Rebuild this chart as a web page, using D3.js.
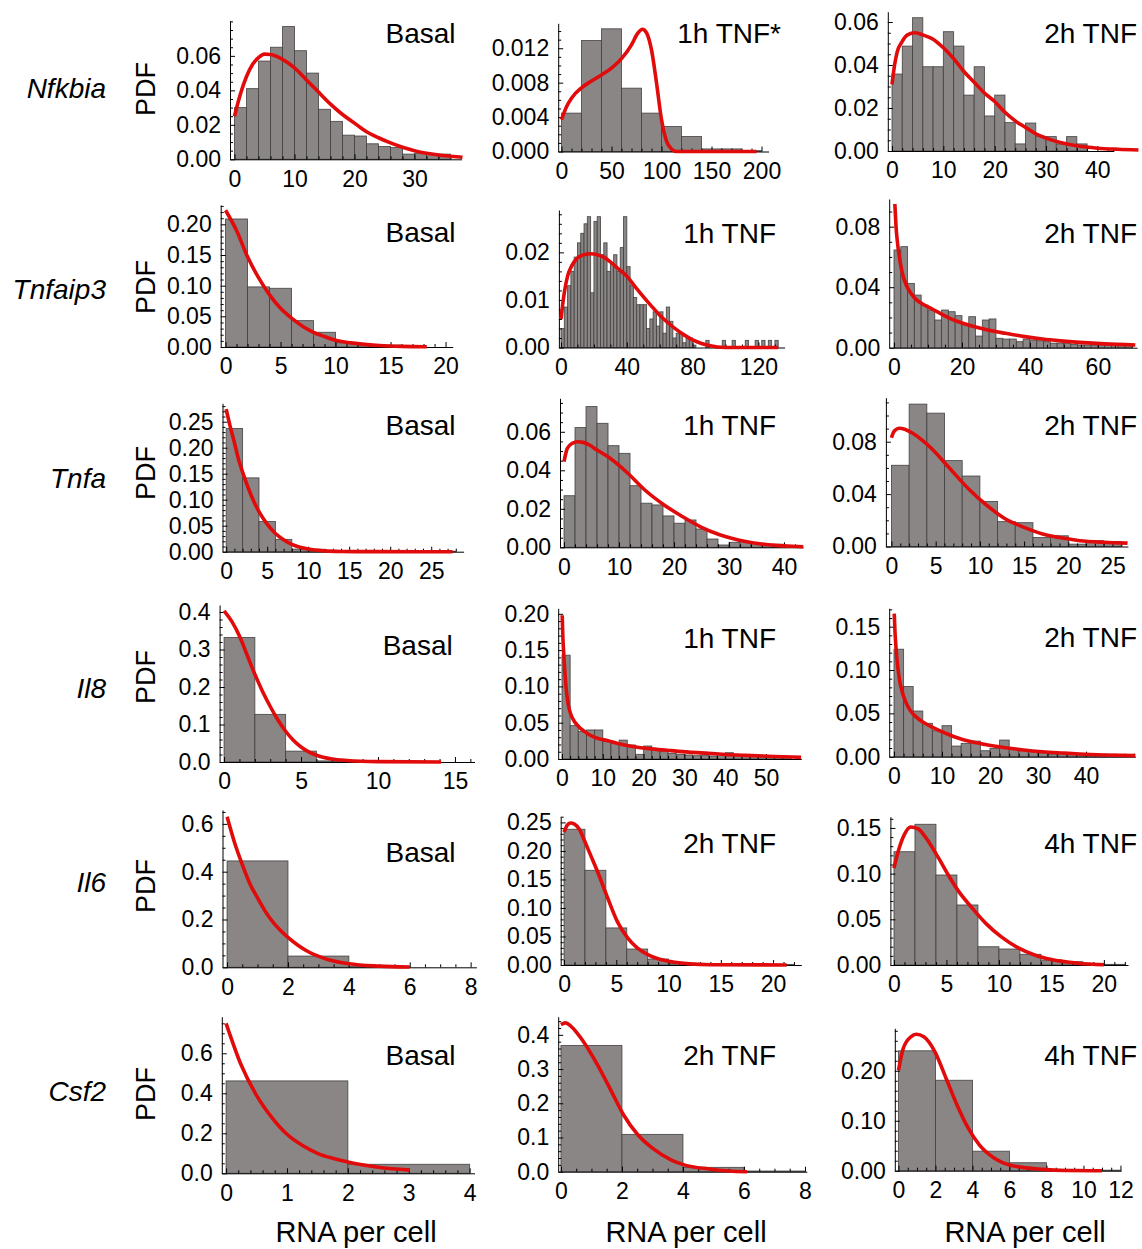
<!DOCTYPE html>
<html>
<head>
<meta charset="utf-8">
<script src="https://cdn.jsdelivr.net/npm/d3@7"></script>
<style>
  body { margin: 0; background: #fff; }
  svg { display: block; }
</style>
</head>
<body>
<svg id="chart" width="1142" height="1249"></svg>
<script>
// ---- data ----------------------------------------------------------------
const genes = ["Nfkbia", "Tnfaip3", "Tnfa", "Il8", "Il6", "Csf2"];
const conditions = [
  ["Basal", "1h TNF*", "2h TNF"],
  ["Basal", "1h TNF", "2h TNF"],
  ["Basal", "1h TNF", "2h TNF"],
  ["Basal", "1h TNF", "2h TNF"],
  ["Basal", "2h TNF", "4h TNF"],
  ["Basal", "2h TNF", "4h TNF"]
];
const xTitle = "RNA per cell";
const yTitle = "PDF";

// histogram bin width (RNA per cell)
const binWidths = [[2, 20, 2], [2, 2, 2], [2, 2, 2], [2, 2, 2], [2, 2, 2], [2, 2, 2]];

// histogram densities, one value per bin starting at 0
const nfkbiaBasal = [0.030, 0.041, 0.057, 0.065, 0.077, 0.063, 0.050, 0.029, 0.022, 0.014, 0.0135, 0.009, 0.0074, 0.0068, 0.003, 0.0035, 0.003, 0.003];
const nfkbia1h = [0.00446, 0.0129, 0.01426, 0.00736, 0.00446, 0.0029, 0.00174, 0.0003, 0.0003, 0.0001];
const nfkbia2h = [0.0358, 0.0488, 0.062, 0.0392, 0.0392, 0.0555, 0.0488, 0.026, 0.0392, 0.0163, 0.026, 0.0132, 0.0033, 0.013, 0.0067, 0.0067, 0.0033, 0.0067, 0.0033];
const tnfaip3Basal = [0.2087, 0.098, 0.0957, 0.043, 0.024, 0.007, 0.004, 0.003, 0.0025];
const tnfaip31h = [0.004, 0.0085, 0.013, 0.016, 0.019, 0.022, 0.024, 0.026, 0.0275, 0.0115,
  0.0265, 0.0275, 0.0195, 0.022, 0.016, 0.0175, 0.0195, 0.016, 0.021, 0.0275,
  0.017, 0.013, 0.0105, 0.009, 0.009, 0.009, 0.004, 0.006, 0.0075, 0.0045,
  0.0075, 0.003, 0.0085, 0.0055, 0.002, 0.003, 0.003, 0.001, 0.002, 0.002,
  0.0005, 0, 0, 0, 0.0015, 0, 0, 0, 0, 0.0015,
  0, 0, 0.0015, 0, 0, 0, 0.0015, 0, 0, 0.0015,
  0, 0.0015, 0, 0.0015, 0, 0.0015];
const tnfaip32h = [0.0646, 0.0668, 0.0425, 0.0348, 0.0282, 0.0249, 0.0183, 0.0249, 0.0238, 0.0212,
  0.016, 0.0205, 0.0077, 0.0183, 0.019, 0.0062, 0.0057, 0.0057, 0.004, 0.0057,
  0.005, 0.0046, 0.004, 0.003, 0.003, 0.003, 0.0022, 0.0018, 0.0018, 0.0018,
  0.0018, 0.0018, 0.0018, 0.0018, 0.0018];
const tnfaBasal = [0.237, 0.142, 0.058, 0.0237, 0.005, 0.003, 0.002, 0.0015, 0.001, 0.001, 0.001, 0.001, 0.001, 0.001];
const tnfa1h = [0.0268, 0.0622, 0.0731, 0.0644, 0.0528, 0.0488, 0.032, 0.0229, 0.022, 0.0163, 0.0125, 0.0142, 0.0095, 0.0043, 0.0012, 0.0026, 0.003, 0.002, 0.0016, 0.0016, 0.0009];
const tnfa2h = [0.062, 0.1087, 0.1018, 0.0656, 0.0538, 0.0344, 0.019, 0.0182, 0.0069, 0.0082, 0.0018, 0.0044, 0.0038];
const il8Basal = [0.332, 0.127, 0.029, 0.003];
const il81h = [0.143, 0.046, 0.0377, 0.04, 0.04, 0.0248, 0.0216, 0.026, 0.0193, 0.0064, 0.0179, 0.0124, 0.0101, 0.0078, 0.0064, 0.0055, 0.0046, 0.0055, 0.0041, 0.0064, 0.0087, 0.0046, 0.0041, 0.0032, 0.0032, 0.0028, 0.0023, 0.0023];
const il82h = [0.124, 0.081, 0.0527, 0.0385, 0.03, 0.0358, 0.0123, 0.0154, 0.018, 0.0069, 0.0096, 0.0192, 0.0096, 0.0077, 0.0058, 0.0046, 0.0031, 0.0046, 0.0038, 0.0031, 0.0031, 0.0023, 0.0019, 0.0019];
const il6Basal = [0.445, 0.047, 0.003];
const il62h = [0.238, 0.166, 0.065, 0.028, 0.0105, 0.003, 0.0015, 0.0015, 0.001, 0.001, 0.001];
const il64h = [0.124, 0.154, 0.0985, 0.0657, 0.02, 0.0175, 0.0117, 0.0055, 0.0036, 0.0018, 0.0007];
const csf2Basal = [0.462, 0.045];
const csf22h = [0.369, 0.109, 0.0127, 0.002];
const csf24h = [0.24, 0.181, 0.039, 0.016, 0.0027, 0.001];

// fitted model curves, [RNA per cell, density]
const nfkbiaBasalFit = [[0,0.025],[1,0.038],[2,0.048],[3,0.055],[4,0.059],[5,0.061],[6,0.0608],[8,0.058],[10,0.053],[12,0.046],[14,0.039],[16,0.032],[18,0.026],[20,0.021],[22,0.016],[24,0.0125],[26,0.0095],[28,0.007],[30,0.005],[32,0.0035],[34,0.0025],[36,0.0018],[38,0.0012]];
const nfkbia1hFit = [[0,0.0037],[5,0.0052],[10,0.0062],[20,0.0074],[30,0.0082],[40,0.0089],[50,0.0097],[60,0.0108],[70,0.0124],[76,0.0137],[81,0.0142],[85,0.0138],[90,0.0118],[95,0.008],[100,0.0037],[105,0.0012],[110,0.0003],[115,0],[195,0]];
const nfkbia2hFit = [[0,0.031],[0.5,0.040],[1,0.046],[2,0.051],[3,0.054],[4.5,0.055],[6,0.054],[8,0.052],[10,0.048],[12,0.043],[14,0.037],[16,0.032],[18,0.027],[20,0.023],[22,0.018],[24,0.014],[26,0.011],[28,0.008],[30,0.006],[33,0.0038],[36,0.0024],[40,0.0013],[44,0.0008],[48,0.0005]];
const tnfaip3BasalFit = [[0,0.223],[1,0.19],[2,0.147],[3,0.113],[4,0.085],[5,0.063],[6,0.047],[7,0.034],[8,0.024],[9,0.017],[10,0.011],[12,0.0055],[14,0.0025],[16,0.001],[18.3,0.0003]];
const tnfaip31hFit = [[0,0.006],[1,0.009],[2,0.0115],[4,0.015],[6,0.0168],[8,0.018],[10,0.0188],[14,0.0195],[18,0.0197],[22,0.0195],[26,0.019],[30,0.018],[35,0.0165],[40,0.015],[45,0.0128],[50,0.0107],[55,0.0087],[60,0.0068],[65,0.0052],[70,0.0038],[75,0.0026],[80,0.0016],[85,0.0009],[90,0.0004],[95,0.0001],[100,0],[132,0]];
const tnfaip32hFit = [[0.25,0.095],[0.6,0.08],[1.1,0.068],[2.2,0.052],[3,0.045],[4.4,0.038],[6,0.033],[7.6,0.030],[10.9,0.026],[16.4,0.0194],[21.9,0.015],[27,0.012],[32.8,0.0095],[38,0.0075],[43.7,0.0057],[49,0.0045],[54.6,0.0035],[62,0.0025],[71,0.0018]];
const tnfaBasalFit = [[0,0.274],[0.5,0.24],[1,0.21],[1.5,0.178],[2,0.153],[3,0.11],[4,0.077],[5,0.053],[6,0.035],[7,0.023],[8,0.014],[9,0.0085],[10,0.005],[12,0.0016],[14,0.0005],[18,0.0001],[27.6,0]];
const tnfa1hFit = [[0,0.0445],[0.6,0.0514],[1.5,0.054],[2.5,0.0548],[3.5,0.0545],[4.7,0.053],[6,0.0505],[8,0.047],[11.4,0.039],[14.8,0.0295],[18.2,0.022],[21.5,0.016],[24.9,0.0105],[28.3,0.0065],[33,0.003],[37.1,0.0013],[43.5,0.0003]];
const tnfa2hFit = [[0,0.083],[0.3,0.088],[0.9,0.0903],[1.5,0.0895],[2.4,0.0864],[3.5,0.081],[4.5,0.075],[6.6,0.0595],[8.7,0.0441],[10.8,0.0313],[12.9,0.021],[15,0.0146],[17.1,0.0095],[19,0.0068],[21.3,0.0044],[24,0.0032],[26.7,0.0026]];
const il8BasalFit = [[0,0.403],[0.5,0.375],[1,0.336],[1.5,0.285],[2,0.234],[2.5,0.188],[3,0.148],[3.5,0.112],[4,0.082],[4.5,0.058],[5,0.04],[5.5,0.027],[6,0.018],[7,0.008],[8,0.004],[10,0.001],[14.1,0]];
const il81hFit = [[0.05,0.198],[0.2,0.17],[0.42,0.146],[0.7,0.12],[1.15,0.09],[1.6,0.073],[2.2,0.061],[3,0.052],[4.1,0.0445],[5.5,0.038],[6.8,0.033],[9,0.028],[11.3,0.0253],[14,0.021],[17.7,0.017],[22,0.014],[26.8,0.0115],[31,0.0095],[35.9,0.0078],[40,0.0063],[45,0.005],[52,0.0035],[58.6,0.0023]];
const il82hFit = [[0.05,0.165],[0.2,0.145],[0.4,0.127],[0.75,0.105],[1.17,0.088],[1.7,0.075],[2.3,0.065],[3.3,0.054],[4.6,0.046],[6,0.04],[7.75,0.0346],[9.5,0.03],[11.6,0.025],[13.5,0.0212],[15.5,0.018],[19,0.014],[23.2,0.0104],[27,0.0078],[30.9,0.0058],[35,0.0043],[38.7,0.0031],[44,0.002],[50.3,0.0012]];
const il6BasalFit = [[0,0.63],[0.25,0.52],[0.5,0.43],[0.75,0.35],[1,0.29],[1.25,0.235],[1.5,0.19],[1.75,0.155],[2,0.125],[2.35,0.09],[2.7,0.063],[3.3,0.033],[4,0.015],[5,0.005],[6,0.001]];
const il62hFit = [[0,0.233],[0.3,0.245],[0.6,0.249],[1,0.247],[1.5,0.237],[2,0.216],[2.6,0.19],[3.2,0.164],[4.06,0.123],[5.1,0.076],[6.1,0.047],[7,0.03],[8.1,0.0175],[9,0.011],[10.2,0.006],[12,0.002],[14,0.0005],[21.3,0]];
const il64hFit = [[0,0.106],[0.5,0.128],[1,0.143],[1.6,0.151],[2.3,0.149],[3,0.14],[4.2,0.118],[5.2,0.098],[6.2,0.08],[7.4,0.063],[8.8,0.045],[10.2,0.031],[11.8,0.019],[13.4,0.011],[15,0.006],[17.5,0.002],[20,0.0003]];
const csf2BasalFit = [[0,0.75],[0.25,0.54],[0.5,0.39],[0.75,0.28],[1,0.195],[1.25,0.14],[1.5,0.1],[1.75,0.075],[2,0.056],[2.5,0.03],[3.02,0.016]];
const csf22hFit = [[0,0.43],[0.15,0.435],[0.33,0.425],[0.7,0.385],[1.18,0.315],[1.67,0.232],[2.04,0.168],[2.52,0.108],[3.01,0.068],[3.62,0.034],[4.04,0.02],[4.84,0.008],[5.5,0.002],[6.1,0]];
const csf24hFit = [[0,0.201],[0.26,0.245],[0.67,0.268],[0.96,0.273],[1.37,0.268],[1.97,0.238],[2.57,0.185],[3.17,0.131],[3.77,0.085],[4.38,0.051],[5.18,0.025],[6.04,0.011],[7.79,0.0027],[9,0.0005],[11,0]];

// tick labels
const xTicks = [
  [[0, 10, 20, 30], [0, 50, 100, 150, 200], [0, 10, 20, 30, 40]],
  [[0, 5, 10, 15, 20], [0, 40, 80, 120], [0, 20, 40, 60]],
  [[0, 5, 10, 15, 20, 25], [0, 10, 20, 30, 40], [0, 5, 10, 15, 20, 25]],
  [[0, 5, 10, 15], [0, 10, 20, 30, 40, 50], [0, 10, 20, 30, 40]],
  [[0, 2, 4, 6, 8], [0, 5, 10, 15, 20], [0, 5, 10, 15, 20]],
  [[0, 1, 2, 3, 4], [0, 2, 4, 6, 8], [0, 2, 4, 6, 8, 10, 12]]
];
const yTicks = [
  [[0, 0.02, 0.04, 0.06], [0, 0.004, 0.008, 0.012], [0, 0.02, 0.04, 0.06]],
  [[0, 0.05, 0.1, 0.15, 0.2], [0, 0.01, 0.02], [0, 0.04, 0.08]],
  [[0, 0.05, 0.1, 0.15, 0.2, 0.25], [0, 0.02, 0.04, 0.06], [0, 0.04, 0.08]],
  [[0, 0.1, 0.2, 0.3, 0.4], [0, 0.05, 0.1, 0.15, 0.2], [0, 0.05, 0.1, 0.15]],
  [[0, 0.2, 0.4, 0.6], [0, 0.05, 0.1, 0.15, 0.2, 0.25], [0, 0.05, 0.1, 0.15]],
  [[0, 0.2, 0.4, 0.6], [0, 0.1, 0.2, 0.3, 0.4], [0, 0.1, 0.2]]
];
const yDecimals = [[2, 3, 2], [2, 2, 2], [2, 2, 2], [1, 2, 2], [1, 2, 2], [1, 1, 2]];
const xMinorStep = [[2, 10, 2], [1, 10, 5], [1, 2, 1], [1, 2, 2], [0.5, 1, 1], [0.2, 0.5, 0.5]];
const yMinorStep = [[0.005, 0.001, 0.005], [0.01, 0.002, 0.01], [0.01, 0.005, 0.01], [0.02, 0.01, 0.01], [0.05, 0.01, 0.01], [0.05, 0.02, 0.02]];

// axis extents of each panel: [x at left end, x at right end, y at top]
const extents = [
  [[-0.75, 37.85, 0.0804], [-3.3, 207.1, 0.0149], [-0.82, 43.2, 0.0648]],
  [[-0.44, 20.65, 0.2315], [-1.28, 135.9, 0.0289], [-1.41, 71.5, 0.0983]],
  [[-0.45, 28.95, 0.2854], [-0.73, 43.45, 0.0774], [-0.63, 26.74, 0.1136]],
  [[-0.29, 16.27, 0.4187], [-0.93, 58.65, 0.2076], [-1.0, 50.3, 0.1712]],
  [[-0.15, 8.19, 0.658], [-0.32, 22.7, 0.26], [-0.34, 22.3, 0.1623]],
  [[-0.07, 4.08, 0.783], [-0.09, 8.06, 0.453], [-0.2, 12.04, 0.285]]
];

// ---- layout (px) ---------------------------------------------------------
// [axis left, axis right, axis top, baseline]
const frames = [
  [[230, 461.6, 20.7, 159.3], [558.2, 768.6, 23.3, 151.5], [887.8, 1113.8, 11.7, 151]],
  [[220.7, 452.7, 205, 347], [558.9, 784.6, 210, 347.5], [889.2, 1137, 199, 347.7]],
  [[222.5, 463.6, 403.3, 551.7], [560, 803, 398.3, 547.3], [885.9, 1127.9, 397.7, 546.5]],
  [[219.6, 474.5, 605, 762], [558.2, 801.3, 608.3, 759], [889.2, 1135.4, 608.3, 756.7]],
  [[222.5, 476.4, 810, 967.3], [560.7, 801.3, 816.7, 965], [890.4, 1128, 816.7, 965]],
  [[221.8, 474.5, 1016.7, 1173.3], [558.2, 806.8, 1016.7, 1171.7], [894.8, 1121.2, 1028.3, 1170.7]]
];
const geneBaseline = [98, 299, 488, 698, 892, 1101];
const pdfCenterY = [89, 287, 473, 677, 886, 1094];
// condition label: [right edge, baseline]
const condAnchor = [
  [[455.5, 42.7], [781, 42.7], [1137, 42.7]],
  [[455.5, 242], [776, 243], [1137, 243]],
  [[455.5, 434.5], [776, 435], [1137, 435]],
  [[452.7, 655], [776, 648], [1137, 647]],
  [[455.5, 862], [776, 852.5], [1137, 853]],
  [[455.5, 1065], [776, 1064.5], [1137, 1065]]
];
const xTitleCenter = [356, 686, 1025];

const FONT = '"Liberation Sans", Arial, Helvetica, sans-serif';
const BAR_FILL = "#8a8685";
const BAR_EDGE = "#3d3b3b";
const FIT_RED = "#e10b0b";

const barData = [
  [nfkbiaBasal, nfkbia1h, nfkbia2h],
  [tnfaip3Basal, tnfaip31h, tnfaip32h],
  [tnfaBasal, tnfa1h, tnfa2h],
  [il8Basal, il81h, il82h],
  [il6Basal, il62h, il64h],
  [csf2Basal, csf22h, csf24h]
];
const fitData = [
  [nfkbiaBasalFit, nfkbia1hFit, nfkbia2hFit],
  [tnfaip3BasalFit, tnfaip31hFit, tnfaip32hFit],
  [tnfaBasalFit, tnfa1hFit, tnfa2hFit],
  [il8BasalFit, il81hFit, il82hFit],
  [il6BasalFit, il62hFit, il64hFit],
  [csf2BasalFit, csf22hFit, csf24hFit]
];

// minor tick values between lo and hi, skipping the labelled ones
function minorTicks(lo, hi, step, majors) {
  const out = [];
  for (let i = Math.ceil(lo / step - 1e-9); i * step <= hi + 1e-9; i++) {
    const v = +(i * step).toFixed(6);
    if (!majors.some(m => Math.abs(m - v) < step / 10)) out.push(v);
  }
  return out;
}

const svg = d3.select("#chart");

genes.forEach((gene, r) => {
  // gene name and y title
  svg.append("text")
    .attr("x", 106).attr("y", geneBaseline[r])
    .attr("text-anchor", "end")
    .attr("font-family", FONT).attr("font-size", 28).attr("font-style", "italic")
    .text(gene);
  svg.append("text")
    .attr("transform", `translate(154.5,${pdfCenterY[r]}) rotate(-90)`)
    .attr("text-anchor", "middle")
    .attr("font-family", FONT).attr("font-size", 27)
    .text(yTitle);

  for (let c = 0; c < 3; c++) {
    const [left, right, top, base] = frames[r][c];
    const [xlo, xhi, ymax] = extents[r][c];
    const x = d3.scaleLinear().domain([xlo, xhi]).range([left, right]);
    const y = d3.scaleLinear().domain([0, ymax]).range([base, top]);
    const bw = binWidths[r][c];
    const g = svg.append("g").attr("class", `panel-${r}-${c}`);

    const bins = barData[r][c]
      .map((v, i) => ({ x0: i * bw, x1: (i + 1) * bw, v }))
      .filter(d => d.v > 0);

    g.append("g").selectAll("rect")
      .data(bins)
      .join("rect")
      .attr("x", d => x(d.x0))
      .attr("width", d => x(d.x1) - x(d.x0))
      .attr("y", d => y(d.v))
      .attr("height", d => y(0) - y(d.v))
      .attr("fill", BAR_FILL)
      .attr("stroke", BAR_EDGE)
      .attr("stroke-width", 0.9)
      .attr("stroke-opacity", 0.85);

    // axes (ticks point into the plot)
    const xs = xTicks[r][c], ys = yTicks[r][c];
    const xAxis = g.append("g")
      .attr("transform", `translate(0,${base})`)
      .call(d3.axisBottom(x).tickValues(xs).tickSize(-5).tickSizeOuter(0)
        .tickPadding(11).tickFormat(d3.format("d")));
    g.append("g")
      .attr("transform", `translate(0,${base})`)
      .call(d3.axisBottom(x).tickValues(minorTicks(0, xhi, xMinorStep[r][c], xs))
        .tickSize(-3).tickFormat(""))
      .call(s => s.select(".domain").remove());

    const yAxis = g.append("g")
      .attr("transform", `translate(${left},0)`)
      .call(d3.axisLeft(y).tickValues(ys).tickSize(-5).tickSizeOuter(0)
        .tickPadding(9).tickFormat(d3.format(`.${yDecimals[r][c]}f`)));
    g.append("g")
      .attr("transform", `translate(${left},0)`)
      .call(d3.axisLeft(y).tickValues(minorTicks(0, ymax, yMinorStep[r][c], ys))
        .tickSize(-3).tickFormat(""))
      .call(s => s.select(".domain").remove());

    [xAxis, yAxis].forEach(a => a
      .attr("font-family", FONT).attr("font-size", 23)
      .selectAll("text").attr("fill", "#000"));

    // fitted curve on top
    g.append("path")
      .datum(fitData[r][c])
      .attr("fill", "none")
      .attr("stroke", FIT_RED)
      .attr("stroke-width", 3.6)
      .attr("d", d3.line().x(d => x(d[0])).y(d => y(d[1])).curve(d3.curveMonotoneX));

    const [lx, ly] = condAnchor[r][c];
    svg.append("text")
      .attr("x", lx).attr("y", ly)
      .attr("text-anchor", "end")
      .attr("font-family", FONT).attr("font-size", 28)
      .text(conditions[r][c]);
  }
});

xTitleCenter.forEach(cx => {
  svg.append("text")
    .attr("x", cx).attr("y", 1242)
    .attr("text-anchor", "middle")
    .attr("font-family", FONT).attr("font-size", 29)
    .text(xTitle);
});
</script>
</body>
</html>
